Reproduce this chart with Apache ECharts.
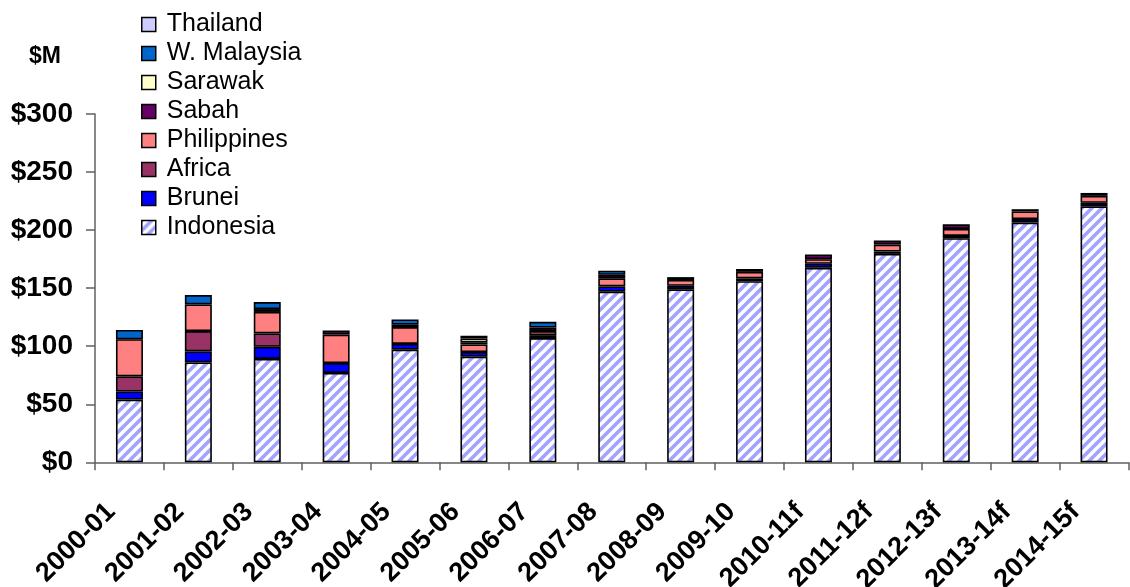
<!DOCTYPE html>
<html>
<head>
<meta charset="utf-8">
<script src="https://cdn.jsdelivr.net/npm/echarts@6/dist/echarts.min.js"></script>
<style>
  html, body { margin: 0; padding: 0; background: #fff; }
  #chart { width: 1130px; height: 587px; }
</style>
</head>
<body>
<div id="chart"></div>
<script>
// Annual value by source region, $M
const categories = ['2000-01', '2001-02', '2002-03', '2003-04', '2004-05', '2005-06', '2006-07', '2007-08',
  '2008-09', '2009-10', '2010-11f', '2011-12f', '2012-13f', '2013-14f', '2014-15f'];

const indonesia   = [54, 86, 89, 77, 97, 91, 107, 147, 149, 156, 167.5, 179.5, 193, 206.5, 220.5];
const brunei      = [7, 9.5, 10.5, 8.5, 5, 4, 2.5, 4.5, 3, 2.5, 3.5, 2, 2, 3, 3];
const africa      = [13, 17.5, 11.5, 0, 0, 0, 0, 0, 0, 0, 0, 0, 0, 0, 0];
const philippines = [32, 23, 18.5, 24.5, 14.5, 6.5, 3.5, 7, 5, 5.5, 4, 6, 6, 6.5, 6];
const sabah       = [0, 0, 2.5, 3.5, 2, 1.5, 3, 3, 2.5, 2.5, 4, 3.5, 4, 2, 2.5];
const sarawak     = [0, 0, 0, 0, 0, 3.5, 0, 0, 0, 0, 0, 0, 0, 0, 0];
const wMalaysia   = [8, 8, 6, 0, 4.5, 2.5, 5, 3.5, 0, 0, 0, 0, 0, 0, 0];
const thailand    = [0, 0, 0, 0, 0, 0, 0, 0, 0, 0, 0, 0, 0, 0, 0];

const yTicks = { min: 0, max: 300, step: 50 };

// Diagonal hatch used for the Indonesia fill
function hatch() {
  const s = 10;
  const c = document.createElement('canvas');
  c.width = s; c.height = s;
  const g = c.getContext('2d');
  g.fillStyle = '#ffffff';
  g.fillRect(0, 0, s, s);
  g.strokeStyle = '#a2a2ff';
  g.lineWidth = 3.6;
  g.beginPath();
  g.moveTo(0, s); g.lineTo(s, 0);
  g.moveTo(-3, 3); g.lineTo(3, -3);
  g.moveTo(s - 3, s + 3); g.lineTo(s + 3, s - 3);
  g.stroke();
  return { image: c, repeat: 'repeat' };
}

const FONT = '"Liberation Sans", Arial, sans-serif';

const stackDefs = [
  ['Indonesia', indonesia, hatch()],
  ['Brunei', brunei, '#0000ff'],
  ['Africa', africa, '#993366'],
  ['Philippines', philippines, '#ff8080'],
  ['Sabah', sabah, '#660066'],
  ['Sarawak', sarawak, '#ffffcc'],
  ['W. Malaysia', wMalaysia, '#0066cc'],
  ['Thailand', thailand, '#ccccff']
];

const series = stackDefs.map(([name, vals, color]) => ({
  name: name,
  type: 'bar',
  stack: 'total',
  barWidth: 27,
  data: vals.map(v => (v === 0 ? null : v)),
  itemStyle: { color: color, borderColor: '#000', borderWidth: 1.6 },
  emphasis: { disabled: true },
  animation: false
}));

const chart = echarts.init(document.getElementById('chart'), null, { renderer: 'canvas' });
chart.setOption({
  backgroundColor: '#fff',
  animation: false,
  textStyle: { fontFamily: FONT },
  grid: { left: 95, right: 1.5, top: 114, bottom: 124.7, containLabel: false, outerBoundsMode: 'none' },
  legend: {
    orient: 'vertical',
    left: 141,
    top: 12,
    padding: 0,
    itemWidth: 14,
    itemHeight: 14,
    itemGap: 4,
    icon: 'rect',
    itemStyle: { borderColor: '#000', borderWidth: 1.5 },
    data: ['Thailand', 'W. Malaysia', 'Sarawak', 'Sabah', 'Philippines', 'Africa', 'Brunei', 'Indonesia'],
    textStyle: { fontSize: 25, color: '#000', fontFamily: FONT, lineHeight: 24, padding: [0, 0, 0, 6] },
    selectedMode: false
  },
  graphic: [{
    type: 'text',
    left: 29,
    top: 45,
    style: { text: '$M', font: 'bold 23px ' + FONT, fill: '#000' }
  }],
  xAxis: {
    type: 'category',
    data: categories,
    axisLine: { lineStyle: { color: '#606060', width: 1.5 } },
    axisTick: { show: true, length: 8, lineStyle: { color: '#606060', width: 1.5 } },
    axisLabel: {
      interval: 0,
      rotate: 45,
      margin: 27,
      padding: [0, 26, 0, 0],
      fontSize: 27,
      fontWeight: 'bold',
      color: '#000',
      fontFamily: FONT
    }
  },
  yAxis: {
    type: 'value',
    min: yTicks.min,
    max: yTicks.max,
    interval: yTicks.step,
    splitLine: { show: false },
    axisLine: { show: true, lineStyle: { color: '#606060', width: 1.5 } },
    axisTick: { show: true, length: 9, lineStyle: { color: '#606060', width: 1.5 } },
    axisLabel: {
      margin: 22,
      fontSize: 28,
      fontWeight: 'bold',
      color: '#000',
      fontFamily: FONT,
      formatter: v => '$' + v
    }
  },
  series: series
});
</script>
</body>
</html>
